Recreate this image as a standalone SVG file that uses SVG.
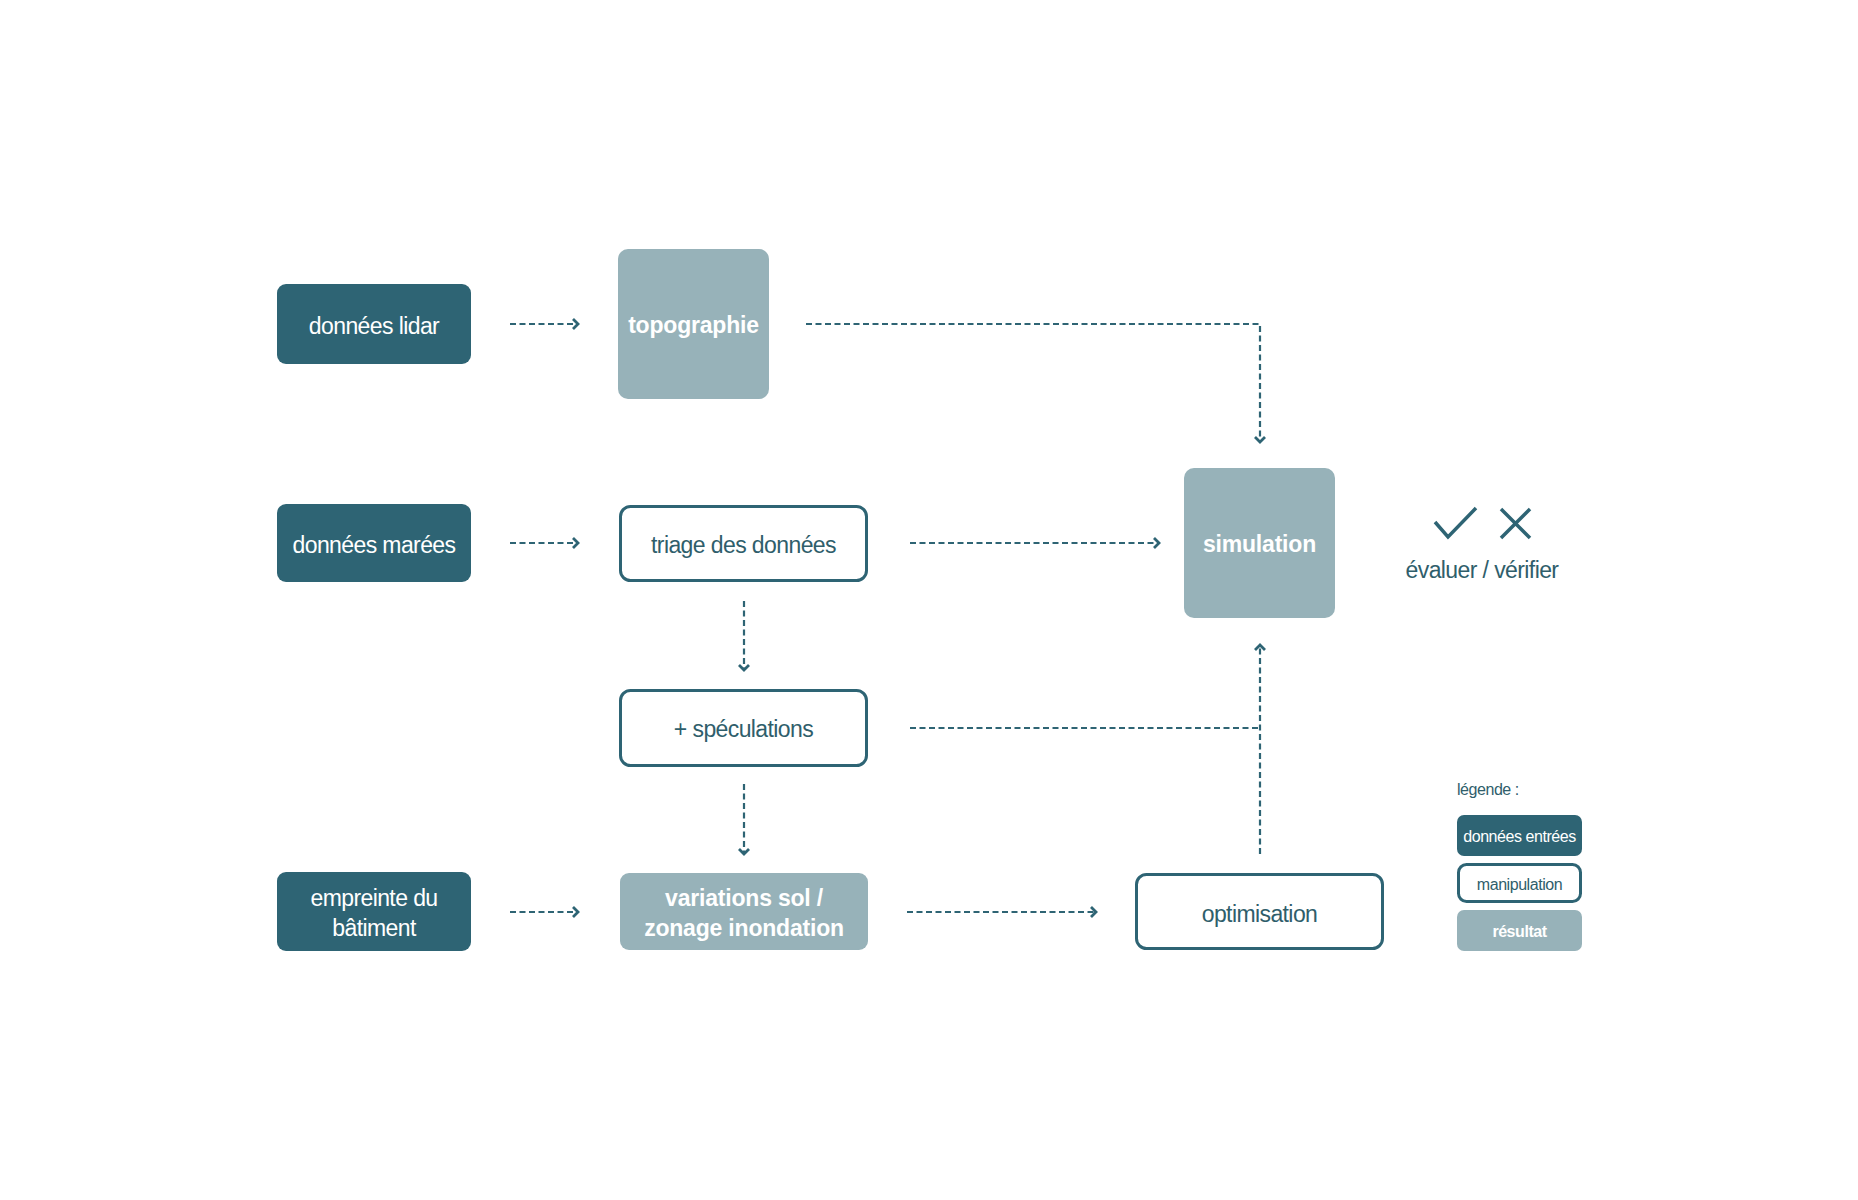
<svg xmlns="http://www.w3.org/2000/svg" width="1858" height="1200" viewBox="0 0 1858 1200">
  <style>
    .in { fill: #2e6474; }
    .res { fill: #97b2b9; }
    .man { fill: #ffffff; stroke: #2e6474; stroke-width: 3; }
    .t { font-family: "Liberation Sans", Arial, sans-serif; font-size: 23px; text-anchor: middle; letter-spacing: -0.6px; }
    .tw { fill: #ffffff; }
    .tb { fill: #ffffff; font-weight: bold; letter-spacing: -0.2px; }
    .td { fill: #2f5e6b; }
    .sm { font-size: 16px; letter-spacing: -0.45px; }
    .conn { fill: none; stroke: #2e6474; stroke-width: 2.2; stroke-dasharray: 6 3.5; }
    .icon { fill: none; stroke: #2e6474; stroke-width: 3.5; }
  </style>
  <defs>
    <marker id="arr" markerUnits="userSpaceOnUse" markerWidth="10" markerHeight="14" refX="7" refY="7" orient="auto">
      <path d="M2,2 L7,7 L2,12" fill="none" stroke="#2e6474" stroke-width="2.8"/>
    </marker>
  </defs>
  <rect width="1858" height="1200" fill="#ffffff"/>

  <g id="connectors">
    <path class="conn" d="M510,324 H578" marker-end="url(#arr)"/>
    <path class="conn" d="M510,543 H578" marker-end="url(#arr)"/>
    <path class="conn" d="M510,912 H578" marker-end="url(#arr)"/>
    <path class="conn" d="M806,324 H1260 V442" marker-end="url(#arr)"/>
    <path class="conn" d="M910,543 H1159" marker-end="url(#arr)"/>
    <path class="conn" d="M744,601 V670" marker-end="url(#arr)"/>
    <path class="conn" d="M744,784 V854" marker-end="url(#arr)"/>
    <path class="conn" d="M910,728 H1260"/>
    <path class="conn" d="M1260,854 V645" marker-end="url(#arr)"/>
    <path class="conn" d="M907,912 H1096" marker-end="url(#arr)"/>
  </g>

  <g id="donnees-lidar">
    <rect class="in" x="277" y="284" width="194" height="80" rx="9"/>
    <text class="t tw" x="374" y="334">données lidar</text>
  </g>
  <g id="topographie">
    <rect class="res" x="618" y="249" width="151" height="150" rx="10"/>
    <text class="t tb" x="693.5" y="333">topographie</text>
  </g>
  <g id="donnees-marees">
    <rect class="in" x="277" y="504" width="194" height="78" rx="9"/>
    <text class="t tw" x="374" y="553">données marées</text>
  </g>
  <g id="triage">
    <rect class="man" x="620.5" y="506.5" width="246" height="74" rx="10"/>
    <text class="t td" x="743.5" y="553">triage des données</text>
  </g>
  <g id="speculations">
    <rect class="man" x="620.5" y="690.5" width="246" height="75" rx="10"/>
    <text class="t td" x="743.5" y="737">+ spéculations</text>
  </g>
  <g id="empreinte">
    <rect class="in" x="277" y="872" width="194" height="79" rx="9"/>
    <text class="t tw" x="374" y="906">empreinte du</text>
    <text class="t tw" x="374" y="936">bâtiment</text>
  </g>
  <g id="variations">
    <rect class="res" x="620" y="873" width="248" height="77" rx="9"/>
    <text class="t tb" x="744" y="906">variations sol /</text>
    <text class="t tb" x="744" y="936">zonage inondation</text>
  </g>
  <g id="simulation">
    <rect class="res" x="1184" y="468" width="151" height="150" rx="10"/>
    <text class="t tb" x="1259.5" y="552">simulation</text>
  </g>
  <g id="optimisation">
    <rect class="man" x="1136.5" y="874.5" width="246" height="74" rx="10"/>
    <text class="t td" x="1259.5" y="922">optimisation</text>
  </g>
  <g id="evaluer">
    <path class="icon" d="M1435,522 L1448,537 L1476,508"/>
    <path class="icon" d="M1501,509 L1530,538 M1530,509 L1501,538"/>
    <text class="t td" x="1482" y="578">évaluer / vérifier</text>
  </g>
  <g id="legende">
    <text class="t td sm" x="1457" y="795" style="text-anchor:start">légende :</text>
    <rect class="in" x="1457" y="815" width="125" height="41" rx="7"/>
    <text class="t tw sm" x="1519.5" y="842">données entrées</text>
    <rect class="man" x="1458.5" y="864.5" width="122" height="37" rx="8"/>
    <text class="t td sm" x="1519.5" y="890">manipulation</text>
    <rect class="res" x="1457" y="910" width="125" height="41" rx="7"/>
    <text class="t tb sm" x="1519.5" y="937">résultat</text>
  </g>
</svg>
